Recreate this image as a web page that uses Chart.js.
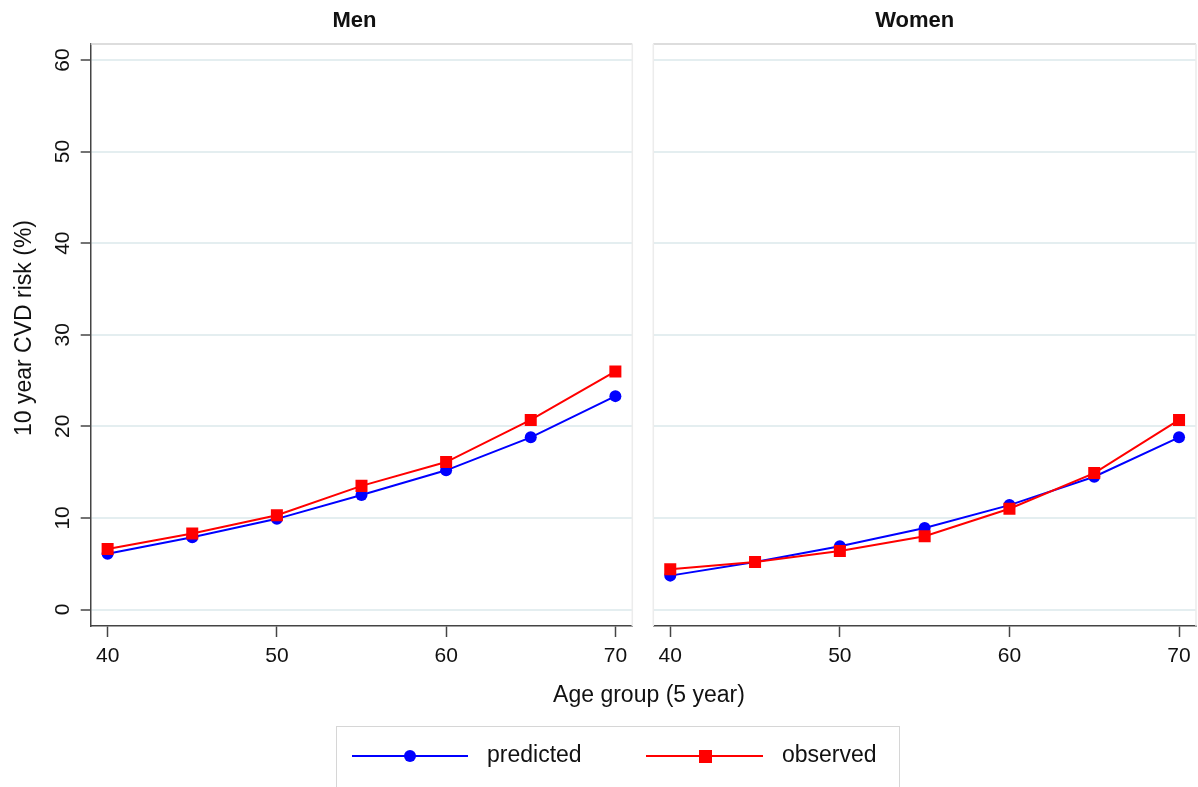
<!DOCTYPE html>
<html>
<head>
<meta charset="utf-8">
<title>10 year CVD risk by age group</title>
<script src="https://cdn.jsdelivr.net/npm/chart.js@4.4.1/dist/chart.umd.min.js"></script>
<style>
  html, body { margin: 0; padding: 0; background: #fff; }
  #wrap { position: relative; width: 1198px; height: 787px; overflow: hidden;
          font-family: 'Liberation Sans', Arial, sans-serif; color: #111; }
  #wrap canvas { position: absolute; left: 0; top: 0; }
  .txt { position: absolute; font-size: 23px; line-height: 28px; white-space: nowrap; }
  #xtitle { left: 449px; width: 400px; top: 680px; text-align: center; }
  #legend { position: absolute; left: 336px; top: 726px; width: 564px; height: 80px;
            border: 1px solid #d6d6d6; box-sizing: border-box; }
  .seg { position: absolute; height: 2px; }
  .mark { position: absolute; }
</style>
</head>
<body>
<div id="wrap">
  <canvas id="men" width="1198" height="787"></canvas>
  <canvas id="women" width="1198" height="787"></canvas>
  <div id="xtitle" class="txt">Age group (5 year)</div>
  <div id="legend"></div>
  <div class="seg" style="left:352px;top:755px;width:116px;background:#0000ff"></div>
  <div class="mark" style="left:404px;top:750px;width:12px;height:12px;border-radius:50%;background:#0000ff"></div>
  <div class="txt" style="left:487px;top:740px">predicted</div>
  <div class="seg" style="left:646px;top:755px;width:117px;background:#ff0000"></div>
  <div class="mark" style="left:699px;top:750px;width:13px;height:13px;background:#ff0000"></div>
  <div class="txt" style="left:782px;top:740px">observed</div>
</div>
<script>
const FONT = "'Liberation Sans', Arial, sans-serif";

// age groups (x) and 10 year risk in % (y)
const ageGroups = [40, 45, 50, 55, 60, 65, 70];
const menPredicted = [6.1, 7.9, 9.9, 12.5, 15.2, 18.8, 23.3];
const menObserved = [6.6, 8.3, 10.3, 13.5, 16.1, 20.7, 26.0];
const womenPredicted = [3.7, 5.2, 6.9, 8.9, 11.4, 14.5, 18.8];
const womenObserved = [4.4, 5.2, 6.4, 8.0, 11.0, 14.9, 20.7];

const yTicks = [0, 10, 20, 30, 40, 50, 60];
const xTicks = [40, 50, 60, 70];

const AXIS = '#444444';
const GRID = '#e4eef0';

const toPoints = (vals) => ageGroups.map((a, i) => ({ x: a, y: vals[i] }));

// light frame lines on the sides without an axis
const framePlugin = {
  id: 'frame',
  beforeDatasetsDraw(chart, args, opts) {
    const { ctx, chartArea: a } = chart;
    ctx.save();
    ctx.lineWidth = 1.5;
    ctx.strokeStyle = '#d2d2d2';
    ctx.beginPath();
    ctx.moveTo(a.left, a.top);
    ctx.lineTo(a.right, a.top);
    ctx.stroke();
    ctx.strokeStyle = '#ececec';
    ctx.beginPath();
    ctx.moveTo(a.right, a.top);
    ctx.lineTo(a.right, a.bottom);
    if (opts.leftEdge) {
      ctx.moveTo(a.left, a.top);
      ctx.lineTo(a.left, a.bottom);
    }
    ctx.stroke();
    ctx.restore();
  }
};

// panel heading, rotated y tick labels and y title
const panelText = {
  id: 'panelText',
  afterDraw(chart, args, opts) {
    const { ctx, chartArea: a } = chart;
    ctx.save();
    ctx.fillStyle = '#111';
    ctx.textAlign = 'center';
    ctx.textBaseline = 'middle';
    ctx.font = 'bold 22px ' + FONT;
    ctx.fillText(opts.title, (a.left + a.right) / 2 + opts.titleShift, 21);
    if (opts.yLabels) {
      const ys = chart.scales.y;
      ctx.font = '21px ' + FONT;
      yTicks.forEach(v => {
        ctx.save();
        ctx.translate(62, ys.getPixelForValue(v));
        ctx.rotate(-Math.PI / 2);
        ctx.fillText(String(v), 0, 1);
        ctx.restore();
      });
      ctx.font = '23px ' + FONT;
      ctx.save();
      ctx.translate(24, 328);
      ctx.rotate(-Math.PI / 2);
      ctx.fillText('10 year CVD risk (%)', 0, 1);
      ctx.restore();
    }
    ctx.restore();
  }
};

function makePanel(id, title, predicted, observed, side) {
  const isMen = side === 'left';
  return new Chart(document.getElementById(id), {
    type: 'line',
    data: {
      datasets: [
        {
          label: 'predicted',
          data: toPoints(predicted),
          borderColor: '#0000ff',
          backgroundColor: '#0000ff',
          borderWidth: 2,
          pointStyle: 'circle',
          pointRadius: 6,
          pointBorderWidth: 0,
          order: 2
        },
        {
          label: 'observed',
          data: toPoints(observed),
          borderColor: '#ff0000',
          backgroundColor: '#ff0000',
          borderWidth: 2,
          pointStyle: 'rect',
          pointRadius: 8.5,
          pointBorderWidth: 0,
          order: 1
        }
      ]
    },
    options: {
      responsive: false,
      animation: false,
      layout: {
        autoPadding: false,
        padding: isMen
          ? { left: 0, top: 44, right: 1198 - 632.3, bottom: 101 }
          : { left: 653.3, top: 44, right: 2, bottom: 101 }
      },
      plugins: {
        legend: { display: false },
        tooltip: { enabled: false },
        frame: { leftEdge: !isMen },
        panelText: { title: title, titleShift: isMen ? -7 : -10, yLabels: isMen }
      },
      scales: {
        x: {
          type: 'linear',
          min: 39,
          max: 71,
          afterBuildTicks: s => { s.ticks = xTicks.map(v => ({ value: v })); },
          afterFit: s => { s.height = 60; },
          ticks: { font: { size: 21, family: FONT }, color: '#111', padding: 7, maxRotation: 0, autoSkip: false },
          grid: { drawOnChartArea: false, drawTicks: true, tickLength: 11, tickColor: AXIS, tickWidth: 1.5 },
          border: { color: AXIS, width: 1.5 }
        },
        y: {
          type: 'linear',
          min: -1.8,
          max: 61.75,
          afterBuildTicks: s => { s.ticks = yTicks.map(v => ({ value: v })); },
          afterFit: s => { s.width = isMen ? 90.7 : 0; },
          ticks: { display: false },
          grid: {
            color: GRID,
            lineWidth: 2,
            drawTicks: isMen,
            tickLength: 10,
            tickColor: AXIS,
            tickWidth: 1.5
          },
          border: { display: isMen, color: AXIS, width: 1.5 }
        }
      }
    },
    plugins: [framePlugin, panelText]
  });
}

makePanel('men', 'Men', menPredicted, menObserved, 'left');
makePanel('women', 'Women', womenPredicted, womenObserved, 'right');
</script>
</body>
</html>
